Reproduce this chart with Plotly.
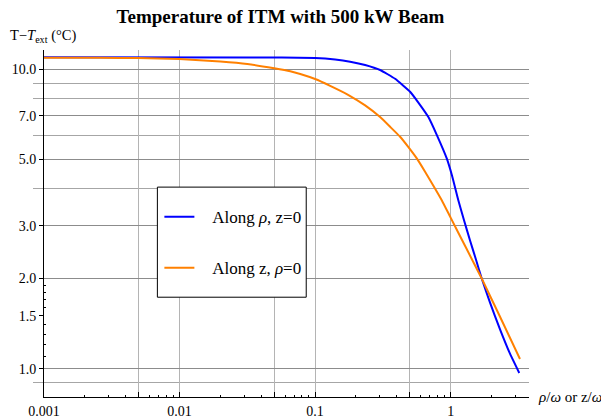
import plotly.graph_objects as go
import math

# ---- data ----
x_rho = [0.001, 0.03324, 0.1, 0.1406, 0.1814, 0.234, 0.3017, 0.3893, 0.5021, 0.5851, 0.6849, 0.7942,
         0.9358, 1.024, 1.139, 1.255, 1.390, 1.539, 1.695, 1.952, 2.313, 2.740, 3.208]
y_rho = [10.967, 10.959, 10.909, 10.784, 10.603, 10.337, 9.946, 9.295, 8.415, 7.683, 6.926, 6.007,
         5.039, 4.413, 3.655, 3.133, 2.678, 2.311, 2.000, 1.661, 1.353, 1.122, 0.967]

x_z = [0.001, 0.002609, 0.00497, 0.00997, 0.0200, 0.0316, 0.04995, 0.06555, 0.0777, 0.1, 0.1292,
       0.1738, 0.234, 0.3017, 0.3576, 0.4238, 0.4880, 0.5625, 0.6476, 0.7419, 0.8598, 1.0016,
       1.299, 1.695, 2.313, 3.246]
y_z = [10.934, 10.925, 10.909, 10.825, 10.619, 10.417, 10.077, 9.847, 9.645, 9.281, 8.808,
       8.236, 7.576, 6.926, 6.427, 5.952, 5.496, 5.039, 4.550, 4.102, 3.655, 3.189,
       2.533, 2.000, 1.490, 1.077]

x_tickvals = [0.001, 0.005, 0.01, 0.05, 0.1, 0.5, 1]
x_ticktext = ["0.001", " ", "0.01", " ", "0.1", " ", "1"]
x_minor = [m * d for d in (0.001, 0.01, 0.1) for m in (2, 3, 4, 6, 7, 8, 9)] + [2, 3]

y_grid_major = [10, 7, 5, 3, 2, 1]
y_grid_minor = [9, 8, 6, 4, 0.9]
y_tickvals = [10, 7, 5, 3, 2, 1.5, 1]
y_ticktext = ["10.0", "7.0", "5.0", "3.0", "2.0", "1.5", "1.0"]
y_minor = [1.1, 1.2, 1.3, 1.4, 1.6, 1.7, 1.8, 1.9]

FONT = "Liberation Serif, Times New Roman, serif"
yrange = [math.log10(0.804), 1.0645]
xrange = [-3, 0.578]

# plot-area geometry in pixels (used only for placing paper-referenced items)
L, R, T, B = 43.5, 529.0, 50.0, 396.7
PW, PH = R - L, B - T


def px(x):
    return (x - L) / PW


def py(y):
    return (B - y) / PH


SP = "&nbsp;&nbsp;&nbsp;"

fig = go.Figure()
fig.add_trace(go.Scatter(x=x_rho, y=y_rho, mode="lines", name=SP + "Along <i>ρ</i>, z=0",
                         line=dict(color="#0000ff", width=2, shape="spline", smoothing=0.4),
                         legendgroup="a"))
fig.add_trace(go.Scatter(x=x_z, y=y_z, mode="lines", name=SP + "Along z, <i>ρ</i>=0",
                         line=dict(color="#ff8000", width=2, shape="spline", smoothing=0.4),
                         legendgroup="b"))
fig.add_trace(go.Scatter(x=[None], y=[None], yaxis="y2", showlegend=False, hoverinfo="skip"))

fig.update_layout(
    width=601, height=419,
    margin=dict(l=L, r=601 - R, t=T, b=419 - B, autoexpand=False),
    paper_bgcolor="white", plot_bgcolor="white",
    font=dict(family=FONT, size=14, color="black"),
    title=dict(text="Temperature of ITM with 500 kW Beam", font=dict(family=FONT, size=19, weight="bold"),
               xref="container", x=280.5 / 601, xanchor="center",
               yref="container", y=1 - 16 / 419, yanchor="middle"),
    xaxis=dict(type="log", range=xrange, tickvals=x_tickvals, ticktext=x_ticktext, automargin=False,
               showgrid=True, gridcolor="#b4b4b4", gridwidth=1.4,
               ticks="inside", ticklen=5, tickcolor="black", tickwidth=1,
               showline=True, linecolor="black", linewidth=1, zeroline=False,
               tickfont=dict(family=FONT, size=14), ticklabelstandoff=1,
               minor=dict(tickvals=x_minor, ticks="inside", ticklen=2, tickcolor="black", showgrid=False)),
    yaxis=dict(type="log", range=yrange, tickvals=y_grid_major, showticklabels=False, ticks="",
               automargin=False,
               showgrid=True, gridcolor="#8c8c8c", gridwidth=1,
               showline=True, linecolor="black", linewidth=1, zeroline=False,
               minor=dict(tickvals=y_grid_minor, showgrid=True, gridcolor="#a6a6a6", gridwidth=1,
                          ticks="outside", ticklen=10, tickcolor="#a6a6a6")),
    yaxis2=dict(type="log", range=yrange, overlaying="y", anchor="x", side="left", automargin=False,
                tickvals=y_tickvals, ticktext=y_ticktext, ticks="outside", ticklen=4,
                tickcolor="black", showgrid=False, showline=False, zeroline=False,
                tickfont=dict(family=FONT, size=14),
                minor=dict(tickvals=y_minor, ticks="inside", ticklen=2, tickcolor="black", showgrid=False)),
    legend=dict(x=px(159), y=py(199), xanchor="left", yanchor="top",
                bgcolor="rgba(0,0,0,0)", borderwidth=0,
                font=dict(family=FONT, size=17), itemwidth=30,
                traceorder="grouped", tracegroupgap=26),
    shapes=[
        dict(type="rect", xref="paper", yref="paper", x0=px(157), x1=px(306), y0=py(297), y1=py(187),
             line=dict(color="black", width=1), fillcolor="white", layer="above"),
    ],
    annotations=[
        dict(text="T−<i>T</i><sub>ext</sub> (°C)", xref="paper", yref="paper",
             x=px(7), y=py(36.5), xanchor="left", yanchor="middle",
             showarrow=False, font=dict(family=FONT, size=14.5)),
        dict(text="<i>ρ</i>/<i>ω</i> or z/<i>ω</i>", xref="paper", yref="paper",
             x=px(536), y=0, xanchor="left", yanchor="middle",
             showarrow=False, font=dict(family=FONT, size=15)),
    ],
)

fig.write_html("out.html")
